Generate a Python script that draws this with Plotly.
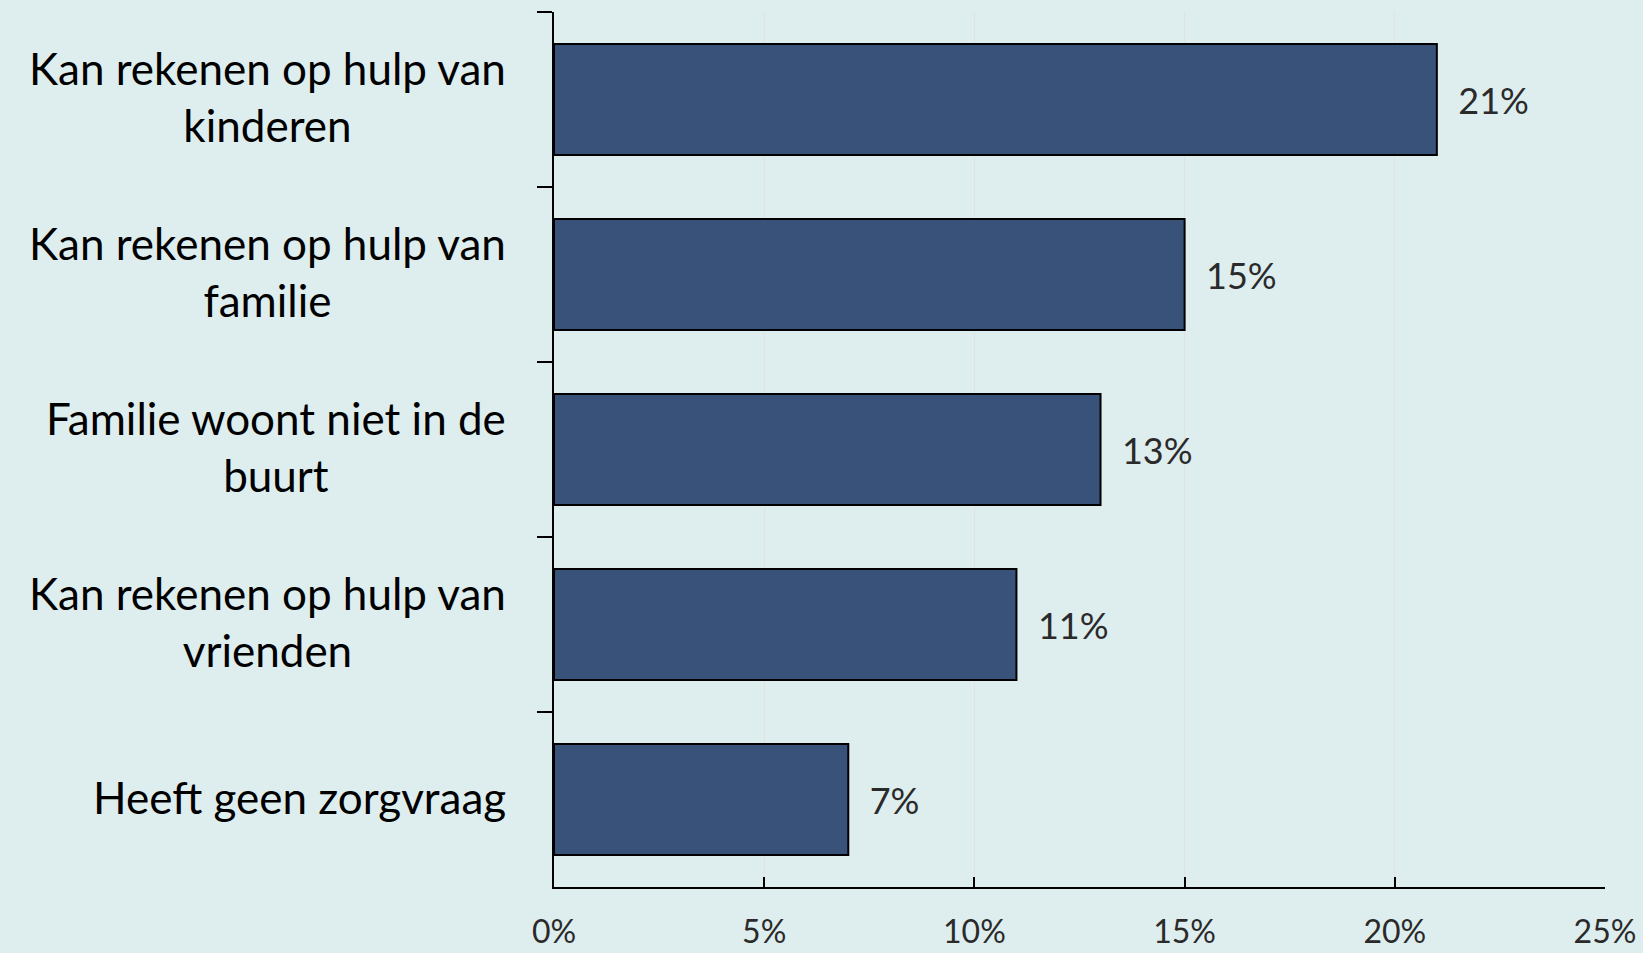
import plotly.graph_objects as go

# categories top to bottom, share in percent
categories = [
    "Kan rekenen op hulp van<br>kinderen",
    "Kan rekenen op hulp van<br>familie",
    "Familie woont niet in de<br>buurt",
    "Kan rekenen op hulp van<br>vrienden",
    "Heeft geen zorgvraag",
]
values = [21, 15, 13, 11, 7]
x_ticks = [0, 5, 10, 15, 20, 25]
x_ticktext = [f"{t}%" for t in x_ticks]

bg = "rgb(222,237,238)"

fig = go.Figure()
fig.add_trace(go.Bar(
    y=categories,
    x=values,
    orientation="h",
    width=0.635,
    marker=dict(color="rgb(57,82,122)", line=dict(color="black", width=2)),
    text=[f"{v}%" for v in values],
    texttemplate="  %{text}",
    textposition="outside",
    textfont=dict(family="Lato", size=36, color="#2a2a2a"),
    cliponaxis=False,
    hoverinfo="skip",
))

# category labels as centred multi-line annotations
for c in categories:
    fig.add_annotation(
        x=-0.044, xref="paper", y=c, yref="y", yshift=3,
        text=c, showarrow=False, xanchor="right", align="center",
        font=dict(family="Lato", size=44, color="black"),
    )

fig.update_layout(
    width=1643, height=953,
    paper_bgcolor=bg, plot_bgcolor=bg,
    margin=dict(l=554, r=38, t=12, b=66),
    showlegend=False,
    bargap=0.365,
)
fig.update_xaxes(
    range=[0, 25], tickvals=x_ticks, ticktext=x_ticktext,
    ticks="inside", ticklen=10, tickwidth=2, tickcolor="black",
    showline=True, linecolor="black", linewidth=2,
    showgrid=True, gridcolor="#e2e2e2", gridwidth=1,
    zeroline=False, automargin=False,
    tickfont=dict(family="Lato", size=32, color="#2a2a2a"),
    ticklabelstandoff=16,
)
fig.update_yaxes(
    autorange="reversed", tickson="boundaries",
    ticks="outside", ticklen=15, tickwidth=2, tickcolor="black",
    showline=True, linecolor="black", linewidth=2,
    showticklabels=False, showgrid=False, automargin=False,
)

fig.write_html("out.html", config={"displayModeBar": False},
               post_script="document.body.style.margin='0';")
